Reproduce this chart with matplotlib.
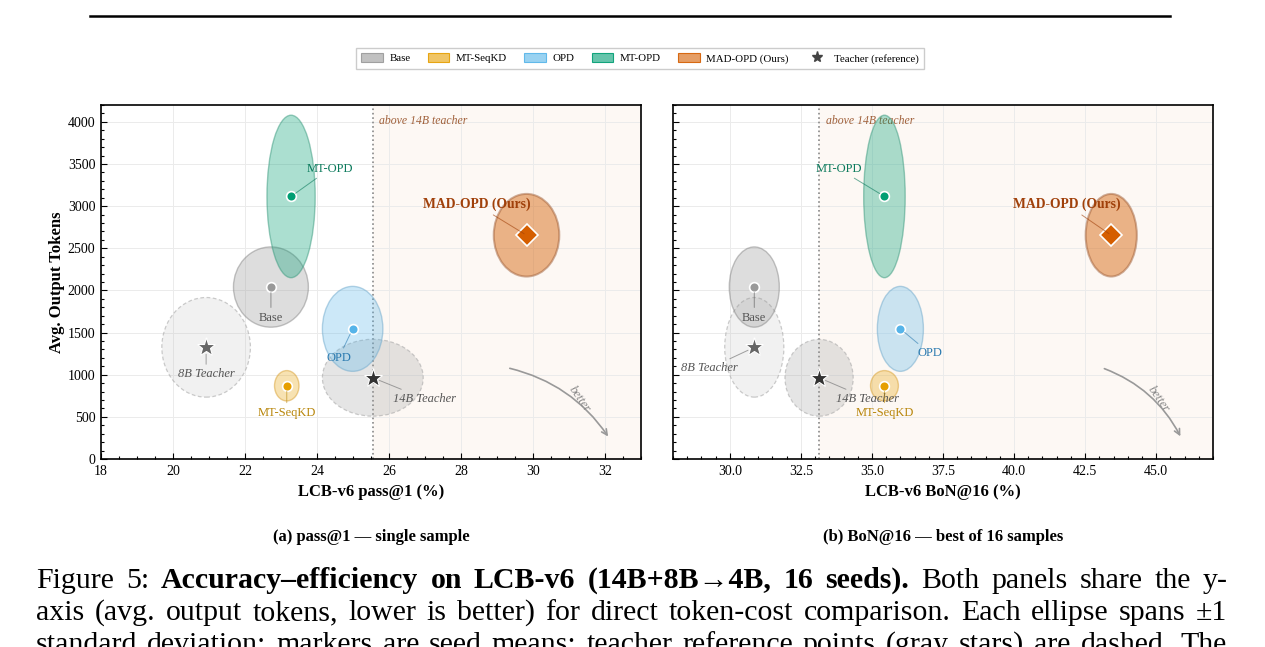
import matplotlib
matplotlib.use('Agg')
import matplotlib.pyplot as plt
from matplotlib.patches import Ellipse, Patch
from matplotlib.lines import Line2D
from matplotlib.ticker import MultipleLocator, FormatStrFormatter
from matplotlib.colors import to_rgba

plt.rcParams['font.family'] = ['Liberation Serif', 'DejaVu Serif']
plt.rcParams['mathtext.fontset'] = 'stix'

# ---------------- data ----------------
methods = ['Base', 'MT-SeqKD', 'OPD', 'MT-OPD', 'MAD-OPD (Ours)']
pass1_mean = [22.72, 23.16, 24.99, 23.28, 29.82]
pass1_std = [1.04, 0.34, 0.84, 0.67, 0.91]
bon16_mean = [30.86, 35.44, 36.00, 35.44, 43.42]
bon16_std = [0.88, 0.49, 0.81, 0.73, 0.90]
tokens_mean = [2040, 869, 1544, 3115, 2655]
tokens_std = [476, 180, 504, 964, 490]

teachers = ['8B Teacher', '14B Teacher']
teacher_pass1 = [20.92, 25.55]
teacher_pass1_std = [1.23, 1.40]
teacher_bon16 = [30.86, 33.14]
teacher_bon16_std = [1.04, 1.20]
teacher_tokens = [1325, 964]
teacher_tokens_std = [591, 456]

legend_labels = ['Base', 'MT-SeqKD', 'OPD', 'MT-OPD', 'MAD-OPD (Ours)', 'Teacher (reference)']
xlabels = ['LCB-v6 pass@1 (%)', 'LCB-v6 BoN@16 (%)']
ylabel = 'Avg. Output Tokens'
subcaptions = ['(a) pass@1 — single sample', '(b) BoN@16 — best of 16 samples']
shade_text = 'above 14B teacher'

# ---------------- styles ----------------
colors = ['#999999', '#E69F00', '#56B4E9', '#009E73', '#D55E00']
label_colors = ['#555555', '#B8860B', '#2A7AB0', '#0B7A5C', '#A0400A']
fill_alpha = [0.33, 0.30, 0.30, 0.33, 0.45]
edge_colors = ['#888888', '#D9A030', '#6FA9CC', '#3A9A7E', '#A0603A']
teacher_fill = [('#bbbbbb', 0.20), ('#999999', 0.25)]
teacher_star = ['#666666', '#333333']

# label offsets (points) per panel
off_a = [(0, -22), (0, -19.5), (-10, -21), (28, 20), (-36, 22)]
off_b = [(0, -22), (0, -19.5), (21, -17.5), (-33, 20), (-32, 22)]
toff_a = [(0, -19.5), (37, -15)]
toff_b = [(-32, -15), (35, -15)]

W, H = 1265, 647
fig = plt.figure(figsize=(W / 100, H / 100), dpi=100)


def fx(px):
    return px / W


def fy(py):
    return 1 - py / H


ax_a = fig.add_axes([fx(101), fy(459), 540 / W, 354 / H])
ax_b = fig.add_axes([fx(673), fy(459), 540 / W, 354 / H], sharey=ax_a)


def draw_panel(ax, xm, xs, tx, txs, offs, toffs, xlim, major, minor, fmt, arrow_start, text_pos, xlabel):
    ax.set_xlim(*xlim)
    ax.set_ylim(0, 4200)
    ax.set_axisbelow(True)
    ax.grid(True, which='major', color='#ebebeb', lw=0.7)
    thr = tx[1]
    ax.axvspan(thr, xlim[1], color='#D55E00', alpha=0.045, lw=0, zorder=0)
    ax.axvline(thr, color='#888888', ls=':', lw=1.2, zorder=1)
    ax.text(thr + 0.012 * (xlim[1] - xlim[0]), 4010, shade_text, fontsize=8.5, style='italic',
            color='#A0603A', ha='left', va='center')

    # teacher ellipses
    for i in range(len(teachers)):
        fc, fa = teacher_fill[i]
        e = Ellipse((tx[i], teacher_tokens[i]), 2 * txs[i], 2 * teacher_tokens_std[i],
                    facecolor=to_rgba(fc, fa), edgecolor=to_rgba('#aaaaaa', 0.6),
                    ls=(0, (3, 2)), lw=0.9, zorder=2)
        ax.add_patch(e)
    # method ellipses
    for i in range(len(methods)):
        e = Ellipse((xm[i], tokens_mean[i]), 2 * xs[i], 2 * tokens_std[i],
                    facecolor=to_rgba(colors[i], fill_alpha[i]),
                    edgecolor=to_rgba(edge_colors[i], 0.5),
                    lw=1.5 if i == 4 else 1.0, zorder=3)
        ax.add_patch(e)
    # teacher stars + labels
    for i in range(len(teachers)):
        ax.plot(tx[i], teacher_tokens[i], marker='*', ms=14, color=teacher_star[i],
                mec='white', mew=0.8, zorder=6, ls='none')
        ax.annotate(teachers[i], xy=(tx[i], teacher_tokens[i]), xytext=toffs[i],
                    textcoords='offset points', ha='center', va='center', fontsize=9,
                    style='italic', color='#555555', zorder=7,
                    arrowprops=dict(arrowstyle='-', color='#888888', lw=0.7, alpha=0.8,
                                    shrinkA=1, shrinkB=5))
    # method markers + labels
    for i in range(len(methods)):
        if i == 4:
            ax.plot(xm[i], tokens_mean[i], marker='D', ms=11, color=colors[i],
                    mec='white', mew=1.2, zorder=6, ls='none')
            ax.annotate(methods[i], xy=(xm[i], tokens_mean[i]), xytext=offs[i],
                        textcoords='offset points', ha='center', va='center', fontsize=9.8,
                        fontweight='bold', color=label_colors[i], zorder=7,
                        arrowprops=dict(arrowstyle='-', color=label_colors[i], lw=0.7, alpha=0.6,
                                        shrinkA=1, shrinkB=2))
        else:
            ax.plot(xm[i], tokens_mean[i], marker='o', ms=7, color=colors[i],
                    mec='white', mew=1.2, zorder=6, ls='none')
            ax.annotate(methods[i], xy=(xm[i], tokens_mean[i]), xytext=offs[i],
                        textcoords='offset points', ha='center', va='center', fontsize=9,
                        color=label_colors[i], zorder=7,
                        arrowprops=dict(arrowstyle='-', color=label_colors[i], lw=0.7, alpha=0.6,
                                        shrinkA=1, shrinkB=4))
    # better arrow
    ax.annotate('', xy=(0.942, 0.057), xytext=arrow_start, xycoords='axes fraction',
                textcoords='axes fraction',
                arrowprops=dict(arrowstyle='->', color='#999999', lw=1.2,
                                connectionstyle='arc3,rad=-0.2'))
    ax.text(text_pos[0], text_pos[1], 'better', transform=ax.transAxes, rotation=-55,
            fontsize=9, style='italic', color='#888888', ha='center', va='center')

    ax.xaxis.set_major_locator(MultipleLocator(major))
    ax.xaxis.set_minor_locator(MultipleLocator(minor))
    ax.xaxis.set_major_formatter(FormatStrFormatter(fmt))
    ax.yaxis.set_major_locator(MultipleLocator(500))
    ax.yaxis.set_minor_locator(MultipleLocator(100))
    ax.tick_params(which='both', direction='in', labelsize=10, width=0.8, pad=4)
    ax.tick_params(which='major', length=4)
    ax.tick_params(which='minor', length=2)
    for s in ax.spines.values():
        s.set_linewidth(1.2)
    ax.set_xlabel(xlabel, fontsize=12, fontweight='bold', labelpad=5)


draw_panel(ax_a, pass1_mean, pass1_std, teacher_pass1, teacher_pass1_std, off_a, toff_a,
           (18, 33), 2, 0.5, '%d', (0.752, 0.258), (0.885, 0.17), xlabels[0])
draw_panel(ax_b, bon16_mean, bon16_std, teacher_bon16, teacher_bon16_std, off_b, toff_b,
           (28, 47), 2.5, 0.5, '%.1f', (0.794, 0.258), (0.899, 0.17), xlabels[1])
ax_a.set_ylabel(ylabel, fontsize=12, fontweight='bold', labelpad=2)
plt.setp(ax_b.get_yticklabels(), visible=False)

# legend
handles = [Patch(facecolor=to_rgba(c, 0.6), edgecolor=to_rgba(c, 0.9), lw=0.8) for c in colors]
handles.append(Line2D([], [], marker='*', color='#444444', ls='none', ms=8))
fig.legend(handles, legend_labels, ncol=6, loc='center', bbox_to_anchor=(fx(640), fy(58.5)),
           frameon=True, fancybox=False, edgecolor='#cccccc', fontsize=7.8,
           handlelength=2.0, handleheight=0.9, columnspacing=1.6, handletextpad=0.6,
           borderpad=0.5, framealpha=1)

# subcaptions
fig.text(fx(371), fy(541), subcaptions[0], ha='center', va='baseline', fontsize=12, fontweight='bold')
fig.text(fx(943), fy(541), subcaptions[1], ha='center', va='baseline', fontsize=12, fontweight='bold')

# top table rule (fragment of the table above the figure)
fig.add_artist(Line2D([fx(90), fx(1170)], [fy(16), fy(16)], color='black', lw=1.8))

# caption, justified
renderer = fig.canvas.get_renderer()
CAP = 21.5


def justify(tokens, x0, x1, yb):
    ts = []
    ws = []
    for w, b in tokens:
        t = fig.text(0, fy(yb), w, fontsize=CAP, fontweight='bold' if b else 'normal',
                     ha='left', va='baseline')
        ws.append(t.get_window_extent(renderer).width)
        ts.append(t)
    gap = (x1 - x0 - sum(ws)) / (len(ts) - 1)
    x = x0
    for t, w in zip(ts, ws):
        t.set_x(fx(x))
        x += w + gap


line1 = [('Figure', False), ('5:', False)] + \
        [(w, True) for w in 'Accuracy–efficiency on LCB-v6 (14B+8B→4B, 16 seeds).'.split()] + \
        [(w, False) for w in 'Both panels share the y-'.split()]
line2 = [(w, False) for w in 'axis (avg. output tokens, lower is better) for direct token-cost comparison. Each ellipse spans ±1'.split()]
line3 = [(w, False) for w in 'standard deviation; markers are seed means; teacher reference points (gray stars) are dashed. The'.split()]
justify(line1, 36, 1228, 588)
justify(line2, 36, 1227, 620)
justify(line3, 36, 1227, 652)

fig.savefig('out.png', dpi=100)
